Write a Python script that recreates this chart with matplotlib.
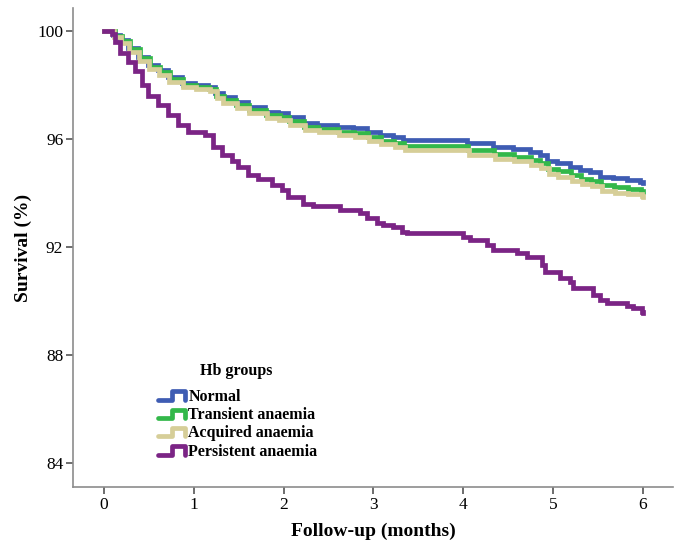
import numpy as np
import matplotlib
matplotlib.use("Agg")
import matplotlib.pyplot as plt
from matplotlib.lines import Line2D
from matplotlib.legend_handler import HandlerBase

plt.rcParams['font.family'] = ['Liberation Serif', 'DejaVu Serif']

# follow-up time (months) and survival (%) at each step
normal_t = [0.00, 0.10, 0.18, 0.27, 0.38, 0.49, 0.60, 0.71, 0.87, 1.01, 1.16, 1.24, 1.32,
            1.46, 1.60, 1.79, 1.94, 2.05, 2.22, 2.37, 2.60, 2.77, 2.93, 3.07, 3.22, 3.33,
            4.04, 4.33, 4.55, 4.74, 4.85, 4.93, 5.04, 5.19, 5.30, 5.41, 5.52, 5.67, 5.82,
            5.97, 6.00]
normal_s = [100.0, 99.85, 99.67, 99.37, 99.04, 98.74, 98.55, 98.30, 98.07, 98.00, 97.93,
            97.70, 97.55, 97.37, 97.18, 97.00, 96.96, 96.80, 96.60, 96.52, 96.44, 96.40,
            96.26, 96.15, 96.07, 95.96, 95.85, 95.70, 95.63, 95.52, 95.40, 95.20, 95.10,
            94.96, 94.85, 94.78, 94.60, 94.55, 94.48, 94.41, 94.37]

transient_t = [0.00, 0.12, 0.20, 0.29, 0.40, 0.51, 0.62, 0.73, 0.88, 1.03, 1.17, 1.25,
               1.34, 1.47, 1.62, 1.80, 1.96, 2.06, 2.23, 2.38, 2.61, 2.78, 2.94, 3.08,
               3.23, 3.34, 4.05, 4.34, 4.56, 4.75, 4.86, 4.94, 5.05, 5.20, 5.31, 5.42,
               5.53, 5.68, 5.83, 5.98, 6.00]
transient_s = [100.0, 99.82, 99.62, 99.32, 98.98, 98.68, 98.48, 98.22, 98.00, 97.92,
               97.85, 97.60, 97.45, 97.27, 97.07, 96.88, 96.82, 96.65, 96.45, 96.36,
               96.27, 96.22, 96.06, 95.94, 95.85, 95.74, 95.60, 95.43, 95.35, 95.23,
               95.12, 94.90, 94.80, 94.66, 94.52, 94.45, 94.28, 94.22, 94.15, 94.08, 94.04]

acquired_t = [0.00, 0.11, 0.19, 0.28, 0.39, 0.50, 0.61, 0.72, 0.88, 1.02, 1.18, 1.26,
              1.33, 1.48, 1.61, 1.81, 1.95, 2.07, 2.24, 2.39, 2.62, 2.79, 2.95, 3.09,
              3.24, 3.35, 4.06, 4.35, 4.57, 4.76, 4.87, 4.95, 5.06, 5.21, 5.32, 5.43,
              5.54, 5.69, 5.84, 5.99, 6.00]
acquired_s = [100.0, 99.78, 99.55, 99.22, 98.88, 98.58, 98.38, 98.12, 97.92, 97.85,
              97.78, 97.50, 97.35, 97.16, 96.96, 96.78, 96.70, 96.52, 96.32, 96.24,
              96.14, 96.08, 95.92, 95.80, 95.70, 95.58, 95.42, 95.25, 95.17, 95.05,
              94.93, 94.70, 94.60, 94.46, 94.32, 94.24, 94.08, 94.01, 93.95, 93.88, 93.85]

persistent_t = [0.00, 0.09, 0.12, 0.18, 0.27, 0.35, 0.42, 0.49, 0.60, 0.71, 0.82, 0.94,
                1.12, 1.21, 1.31, 1.43, 1.49, 1.60, 1.71, 1.87, 1.98, 2.05, 2.22, 2.33,
                2.63, 2.85, 2.93, 3.04, 3.11, 3.22, 3.32, 3.37, 4.00, 4.08, 4.27, 4.33,
                4.60, 4.71, 4.88, 4.91, 5.08, 5.19, 5.22, 5.45, 5.52, 5.60, 5.82, 5.89,
                5.99, 6.00]
persistent_s = [100.0, 99.90, 99.60, 99.20, 98.85, 98.50, 98.00, 97.60, 97.26, 96.90,
                96.50, 96.26, 96.15, 95.70, 95.40, 95.20, 94.96, 94.67, 94.50, 94.30,
                94.10, 93.85, 93.60, 93.50, 93.37, 93.26, 93.07, 92.90, 92.80, 92.74,
                92.56, 92.50, 92.37, 92.26, 92.07, 91.90, 91.78, 91.63, 91.33, 91.07,
                90.85, 90.70, 90.48, 90.22, 90.04, 89.93, 89.80, 89.74, 89.60, 89.56]

groups = ["Normal", "Transient anaemia", "Acquired anaemia", "Persistent anaemia"]
colors = ["#3e5cb3", "#33b84a", "#d6ce98", "#7b2485"]
series = [(normal_t, normal_s), (transient_t, transient_s),
          (acquired_t, acquired_s), (persistent_t, persistent_s)]


class StepHandler(HandlerBase):
    # little step icon like the SPSS legend
    def create_artists(self, legend, orig_handle, xdescent, ydescent, width, height, fontsize, trans):
        xs = np.array([0.0, 0.5, 0.5, 0.93, 0.93]) * width - xdescent
        ys = np.array([0.1, 0.1, 0.85, 0.85, 0.1]) * height - ydescent
        ln = Line2D(xs, ys, color=orig_handle.get_color(), lw=orig_handle.get_linewidth(),
                    solid_joinstyle='round', solid_capstyle='round')
        ln.set_transform(trans)
        return [ln]


fig = plt.figure(figsize=(6.81, 5.45), dpi=100)
ax = fig.add_axes([73 / 681, 1 - 487 / 545, 600 / 681, 479 / 545])

handles = []
for (t, s), c, g in zip(series, colors, groups):
    h, = ax.step(t, s, where='post', color=c, lw=3.4, label=g, solid_joinstyle='miter')
    handles.append(h)

ax.set_xlim(-0.345, 6.336)
ax.set_ylim(83.11, 100.85)
ax.set_xticks(range(0, 7))
ax.set_yticks([84, 88, 92, 96, 100])

for side in ["top", "right"]:
    ax.spines[side].set_visible(False)
for side in ["left", "bottom"]:
    ax.spines[side].set_color("#8c8c8c")
    ax.spines[side].set_linewidth(1.2)
ax.tick_params(axis='both', colors="#555555", labelcolor='black', labelsize=12.5,
               width=1.2, length=5, pad=2)

ax.set_xlabel("Follow-up (months)", fontsize=14, fontweight='bold', labelpad=7)
ax.set_ylabel("Survival (%)", fontsize=14, fontweight='bold', labelpad=4)

fig.text(236 / 681, 1 - 371 / 545, "Hb groups", fontsize=11.5, fontweight='bold',
         ha='center', va='center')
leg = ax.legend(handles=handles, labels=groups, handler_map={Line2D: StepHandler()},
                loc='upper left', bbox_to_anchor=(150 / 681, 1 - 381 / 545),
                bbox_transform=fig.transFigure, frameon=False,
                prop={'size': 11.5, 'weight': 'bold'}, handlelength=1.8, handletextpad=0.1,
                labelspacing=0.14, borderpad=0)

plt.savefig("out.png", dpi=100)
